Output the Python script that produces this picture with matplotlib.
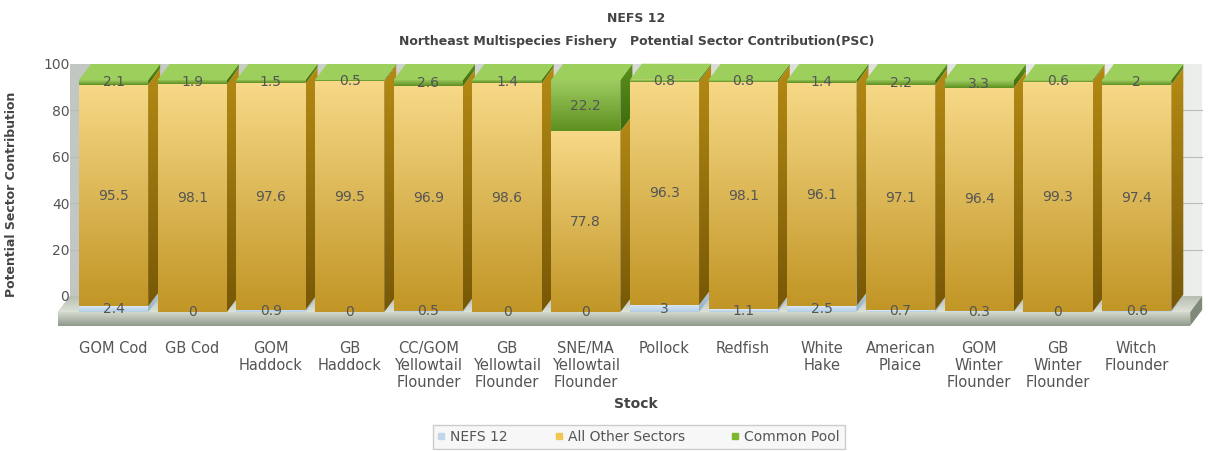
import numpy as np
import matplotlib
matplotlib.use("Agg")
import matplotlib.pyplot as plt
from matplotlib.patches import Polygon
from matplotlib.colors import LinearSegmentedColormap
from matplotlib.lines import Line2D

# data
stocks = ["GOM Cod", "GB Cod", "GOM\nHaddock", "GB\nHaddock",
          "CC/GOM\nYellowtail\nFlounder", "GB\nYellowtail\nFlounder",
          "SNE/MA\nYellowtail\nFlounder", "Pollock", "Redfish", "White\nHake",
          "American\nPlaice", "GOM\nWinter\nFlounder", "GB\nWinter\nFlounder",
          "Witch\nFlounder"]
nefs12 = [2.4, 0, 0.9, 0, 0.5, 0, 0, 3, 1.1, 2.5, 0.7, 0.3, 0, 0.6]
other_sectors = [95.5, 98.1, 97.6, 99.5, 96.9, 98.6, 77.8, 96.3, 98.1, 96.1, 97.1, 96.4, 99.3, 97.4]
common_pool = [2.1, 1.9, 1.5, 0.5, 2.6, 1.4, 22.2, 0.8, 0.8, 1.4, 2.2, 3.3, 0.6, 2]
series_names = ["NEFS 12", "All Other Sectors", "Common Pool"]
yticks = [0, 20, 40, 60, 80, 100]

TXT = "#555555"
# 3d depth offsets (x in category units, y in value units)
DX, DY = 0.1525, 6.9
HALF = 0.44
FL, FR, SLAB = -0.705, 13.68, 6.0

# colours per series: front (bottom, top), side (bottom, top), top face
styles = {
    "NEFS 12": dict(front=("#b4cde3", "#d6e6f3"), side=("#93afc8", "#b3cadf"), top="#e2eef8"),
    "All Other Sectors": dict(front=("#c29626", "#f6d886"), side=("#785806", "#b48a14"), top="#f7dc92"),
    "Common Pool": dict(front=("#5e901f", "#9fcd62"), side=("#3d6a0c", "#5d901c"), top="#9ccf5c"),
}


def shade(ax, verts, c1, c2, horizontal=False, z=2):
    poly = Polygon(verts, closed=True, facecolor="none", edgecolor="none", zorder=z)
    ax.add_patch(poly)
    xs = [v[0] for v in verts]
    ys = [v[1] for v in verts]
    g = np.linspace(0, 1, 64)
    grad = g.reshape(1, -1) if horizontal else g.reshape(-1, 1)
    cmap = LinearSegmentedColormap.from_list("g", [c1, c2])
    im = ax.imshow(grad, extent=(min(xs), max(xs), min(ys), max(ys)), cmap=cmap,
                   origin="lower", aspect="auto", interpolation="bilinear", zorder=z)
    im.set_clip_path(poly)


fig = plt.figure(figsize=(12.1, 4.51), dpi=100)
ax = fig.add_axes([0.04698, 0.27734, 0.94965, 0.5839])
ax.set_facecolor("none")

# back wall and gridlines
shade(ax, [(FL + DX, DY), (FR + DX, DY), (FR + DX, 100 + DY), (FL + DX, 100 + DY)],
      "#c3c7c3", "#eceeec", horizontal=True, z=0)
for t in yticks[1:-1]:
    ax.plot([FL + DX, FR + DX], [t + DY, t + DY], color="#b9bdb9", lw=0.8, zorder=0.5)

# floor slab
shade(ax, [(FL, 0), (FR, 0), (FR + DX, DY), (FL + DX, DY)], "#dde2d8", "#b5bcae", z=1)
shade(ax, [(FL, -SLAB), (FR, -SLAB), (FR, 0), (FL, 0)], "#8f9a8b", "#d3d9ce", z=1)
ax.add_patch(Polygon([(FR, -SLAB), (FR + DX, DY - SLAB), (FR + DX, DY), (FR, 0)],
                     closed=True, facecolor="#7f8a7b", edgecolor="none", zorder=1))
ax.add_patch(Polygon([(FL, -SLAB), (FL, 0), (FL + DX, DY), (FL + DX, DY - SLAB)],
                     closed=True, facecolor="#a9b1a4", edgecolor="none", zorder=0.9))

# 3d stacked bars
for i in range(len(stocks)):
    x0, x1 = i - HALF, i + HALF
    base = 0
    vals = [nefs12[i], other_sectors[i], common_pool[i]]
    for name, v in zip(series_names, vals):
        st = styles[name]
        if v > 0:
            top = base + v
            shade(ax, [(x0, base), (x1, base), (x1, top), (x0, top)], *st["front"], z=3)
            shade(ax, [(x1, base), (x1 + DX, base + DY), (x1 + DX, top + DY), (x1, top)],
                  *st["side"], z=3)
            ax.add_patch(Polygon([(x0, top), (x1, top), (x1 + DX, top + DY), (x0 + DX, top + DY)],
                                 closed=True, facecolor=st["top"], edgecolor="none", zorder=3))
        ax.text(i, base + v / 2, f"{v:g}", ha="center", va="center", fontsize=10,
                color=TXT, zorder=5)
        base += v

ax.set_xlim(-0.72, 13.88)
ax.set_ylim(-SLAB, 107.5)
ax.set_xticks(range(len(stocks)))
ax.set_xticklabels(stocks, fontsize=10.5, color=TXT, linespacing=1.15)
ax.set_yticks([t + DY for t in yticks])
ax.set_yticklabels([str(t) for t in yticks], fontsize=10, color=TXT)
ax.tick_params(axis="x", length=0, pad=11)
ax.tick_params(axis="y", length=0, pad=-9)
for s in ax.spines.values():
    s.set_visible(False)

ax.set_ylabel("Potential Sector Contribution", fontsize=9, fontweight="bold", color="#444444")
ax.yaxis.set_label_coords(-0.0338, 0.5)
ax.set_xlabel("Stock", fontsize=10, fontweight="bold", color="#444444")
ax.xaxis.set_label_coords(0.504, -0.27)

fig.text(0.526, 0.96, "NEFS 12", ha="center", va="center", fontsize=9,
         fontweight="bold", color="#444444")
fig.text(0.526, 0.909, "Northeast Multispecies Fishery   Potential Sector Contribution(PSC)",
         ha="center", va="center", fontsize=9, fontweight="bold", color="#444444")

handles = [Line2D([], [], ls="none", marker="s", markersize=4, color=c)
           for c in ["#c2d6ea", "#f0c850", "#7cb82e"]]
leg = fig.legend(handles, series_names, loc="center", bbox_to_anchor=(0.528, 0.031),
                 ncol=3, fontsize=10, frameon=True, fancybox=False, edgecolor="#cccccc",
                 facecolor="#f7f7f7", framealpha=1, handlelength=0.5, handletextpad=0.4,
                 columnspacing=3.4, borderpad=0.35)
for t in leg.get_texts():
    t.set_color(TXT)

fig.savefig("out.png", dpi=100)
